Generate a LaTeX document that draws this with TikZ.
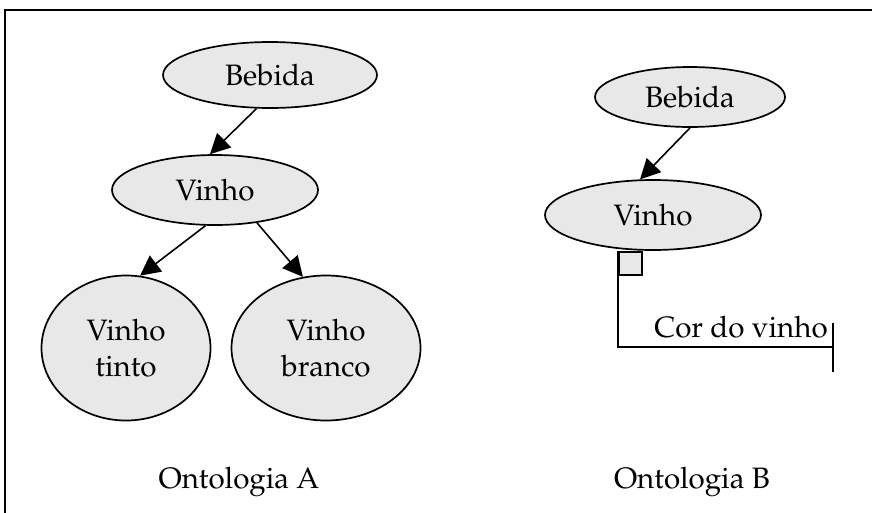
\documentclass[tikz,border=0pt]{standalone}
\usepackage[T1]{fontenc}
\usepackage{mathpazo}
\usetikzlibrary{shapes.geometric,arrows.meta}
\begin{document}
\begin{tikzpicture}[x=1pt,y=-1pt,
  every node/.style={font=\fontsize{29.5}{36}\selectfont},
  ell/.style={ellipse,draw=black,line width=1.7pt,fill=black!9,inner sep=0pt},
  arr/.style={line width=1.6pt,-{Triangle[length=20pt,width=20pt]}},
  lbl/.style={inner sep=0pt}]
\useasboundingbox (0,0) rectangle (872,512);
\draw[line width=2.2pt] (5,520) -- (5,10) -- (880,10);
% Ontologia A
\node[ell,minimum width=214pt,minimum height=66pt] (bebA) at (270,75) {Bebida};
\node[ell,minimum width=206pt,minimum height=70pt] (vinA) at (215,190) {Vinho};
\node[ell,minimum width=169pt,minimum height=145pt,align=center] (tinto) at (126,348) {Vinho\\tinto};
\node[ell,minimum width=189pt,minimum height=145pt,align=center] (branco) at (326,348) {Vinho\\branco};
\draw[arr] (bebA.248) -- (vinA.98);
\draw[arr] (vinA.255) -- (tinto.79);
\draw[arr] (vinA.322) -- (branco.108);
% Ontologia B
\node[ell,minimum width=190pt,minimum height=60pt] (bebB) at (690,97) {Bebida};
\node[ell,minimum width=216pt,minimum height=70pt] (vinB) at (653,215) {Vinho};
\draw[arr] (bebB.270) -- (vinB.110);
\node[draw=black,line width=1.6pt,fill=black!9,minimum size=23pt,inner sep=0pt] (sq) at (630.5,263.5) {};
\coordinate (endp) at (833,347);
\coordinate (tickT) at (833,323);
\coordinate (tickB) at (833,372);
\draw[line width=1.6pt] (sq.north west) |- (endp);
\draw[line width=1.8pt] (tickT) -- (tickB);
\node[lbl] (cor) at (741,327) {Cor do vinho};
% labels
\node[lbl] (ontA) at (239,482) {Ontologia A};
\node[lbl] (ontB) at (692,482) {Ontologia B};
\end{tikzpicture}
\end{document}
